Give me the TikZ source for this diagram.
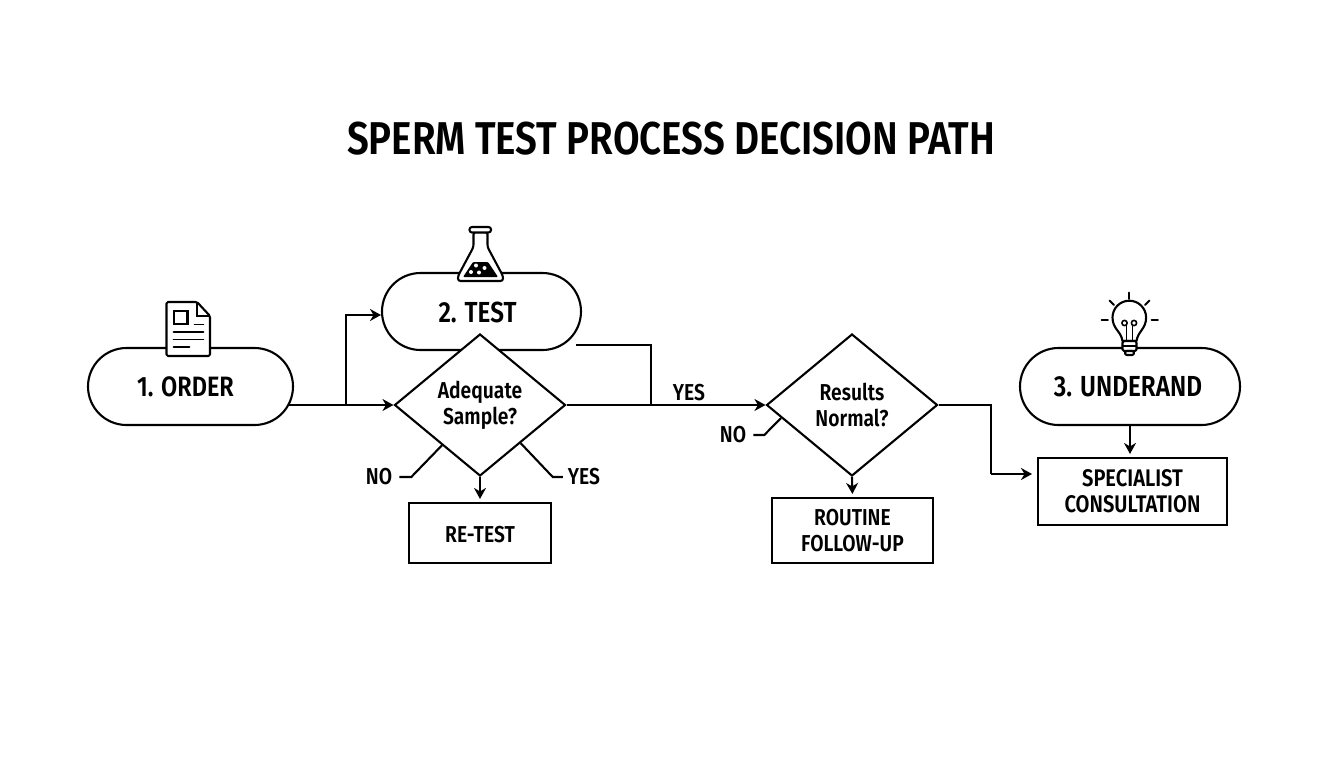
\documentclass[tikz,border=0pt]{standalone}
\usepackage{fontspec}
\setmainfont{Fira Sans}[FakeStretch=0.838,UprightFont=* SemiBold,BoldFont=* SemiBold]
\usetikzlibrary{arrows.meta,calc,shapes.geometric,shapes.misc}
\newcommand{\fsz}[1]{\fontsize{#1}{26}\selectfont}
\tikzset{
    conn/.style={line width=2.1pt},
    arr/.style={conn, -{Stealth[length=11pt,width=12pt,inset=3.5pt]}},
    pill/.style={draw, line width=2.1pt, fill=white, rounded rectangle, minimum height=77pt, inner sep=0pt, font=\fsz{29}},
    choice/.style={draw, line width=2.1pt, fill=white, diamond, aspect=1.2, minimum width=171pt, minimum height=142pt, inner sep=0pt, align=center, font=\fsz{23}},
    outcome/.style={draw, line width=2.1pt, fill=white, rectangle, inner sep=0pt, align=center, font=\fsz{23}},
    branch/.style={inner sep=0pt, font=\fsz{23}},
    icon/.style={line width=2.1pt, fill=white, line join=round},
    iconline/.style={line width=1.8pt, line cap=round}
}
\begin{document}
\begin{tikzpicture}[x=1pt,y=-1pt]
    \useasboundingbox (0,0) rectangle (1344,768);
    \node [inner sep=0pt, font=\fsz{46}] (title) at (671,139) {SPERM TEST PROCESS DECISION PATH};

    % start/end stages
    \node [pill, minimum width=205pt, font=\fsz{28}] (order) at (190.5,386.5) {1. ORDER\kern10pt};
    \node [pill, minimum width=199pt, text height=23pt] (test) at (481.5,311.5) {2. TEST\kern8pt};
    \node [pill, minimum width=220pt] (underand) at (1130,386.5) {3. UNDERAND\kern4pt};

    % decisions
    \node [choice] (adequate) at (480,405) {Adequate\\Sample?};
    \node [choice] (normal) at (852,405) {Results\\Normal?};

    % outcomes
    \node [outcome, minimum width=142pt, minimum height=60pt, text height=19pt] (retest) at (480,533) {RE-TEST};
    \node [outcome, minimum width=161pt, minimum height=65pt] (routine) at (852.5,530.5) {ROUTINE\\FOLLOW-UP};
    \node [outcome, minimum width=189pt, minimum height=67pt, font=\fsz{24}] (specialist) at (1132.5,491.5) {SPECIALIST\\CONSULTATION};

    % branch labels
    \node [branch] (noa) at (379,477) {NO};
    \node [branch] (yesa) at (584,477) {YES};
    \node [branch] (yesb) at (689,393) {YES};
    \node [branch] (nob) at (733,435) {NO};

    % connector corners
    \coordinate (orderout) at (288,405);
    \coordinate (fork) at (346,405);
    \coordinate (testin) at (381,315);
    \coordinate (testout) at (576,345);
    \coordinate (testdrop) at (651,345);
    \coordinate (merge) at (651,405);
    \coordinate (kneea) at (991,405);
    \coordinate (kneeb) at (991,474);
    \coordinate (specin) at (1032,474);

    \draw [arr] (orderout) -- (adequate.west);
    \draw [arr] (fork) |- (testin);
    \draw [conn] (testout) -- (testdrop) -- (merge);
    \draw [arr] (adequate.east) -- (normal.west);
    \draw [arr, shorten >=3pt] (adequate.south) -- (retest.north);
    \draw [arr, shorten >=3pt] (normal.south) -- (routine.north);
    \draw [conn] (normal.east) -- (kneea) -- (kneeb);
    \draw [arr] (kneeb) -- (specin);
    \draw [arr, shorten >=3pt] (underand.south) -- (underand.south |- specialist.north);

    % leaders from the branch labels
    \draw [conn] ($(noa.east)+(7,0)$) -- ++(12,0) -- ($(adequate.west)!0.56!(adequate.south)$);
    \draw [conn] ($(yesa.west)+(-5,0)$) -- ++(-10,0) -- ($(adequate.east)!0.53!(adequate.south)$);
    \draw [conn] ($(nob.east)+(7,0)$) -- ++(11,0) -- ($(normal.west)!0.18!(normal.south)$);

    % order icon
    \draw [icon, rounded corners=1.5pt] (166.5,302) -- (197,302) -- (210,316) -- (210,356) -- (166.5,356) -- cycle;
    \draw [conn] (197,302) -- (197,316) -- (210,316);
    \draw [conn] (174,311) rectangle (187.5,324);
    \draw [iconline] (194.5,324.5) -- (203.5,324.5);
    \foreach \y in {332,339.5} {
        \draw [iconline] (173.5,\y) -- (203.5,\y);
    }
    \draw [iconline] (173.5,347) -- (189.5,347);

    % flask icon
    \draw [icon, rounded corners=2.5pt] (473.5,232) -- (473.5,247) -- (458,276) -- (458,281) -- (503,281) -- (503,276) -- (487.5,247) -- (487.5,232) -- cycle;
    \draw [icon, rounded corners=2.5pt] (469.5,227) rectangle (491,232.5);
    \fill [rounded corners=1pt] (473,262) -- (488,262) -- (498,277) -- (463,277) -- cycle;
    \foreach \x/\y in {476/265.5,484.5/268,471/272,479/272.5} {
        \fill [white] (\x,\y) circle [radius=2];
    }

    % bulb icon
    \draw [icon] (1122.5,341) .. controls (1121,331) and (1112.5,329) .. (1112.5,317.5) arc [start angle=180, end angle=360, radius=16.8] .. controls (1146.1,329) and (1138,331) .. (1136.5,341) -- cycle;
    \draw [icon, rounded corners=1.5pt] (1122.5,341) rectangle (1136.5,351);
    \draw [icon, rounded corners=2pt] (1125,351) rectangle (1134,355);
    \draw [iconline] (1122.5,346) -- (1136.5,346);
    \foreach \x in {1124.5,1134} {
        \draw [line width=1.6pt] (\x,323) circle [radius=2.6];
    }
    \draw [iconline] (1126.5,325) -- (1126.5,340);
    \draw [iconline] (1132.5,325) -- (1132.5,340);
    \draw [iconline] (1129.3,292.5) -- (1129.3,299);
    \draw [iconline] (1101.5,320) -- (1108,320);
    \draw [iconline] (1151.5,320) -- (1158,320);
    \draw [iconline] (1109.5,300.5) -- (1114,305);
    \draw [iconline] (1149.5,300.5) -- (1145,305);
\end{tikzpicture}
\end{document}
